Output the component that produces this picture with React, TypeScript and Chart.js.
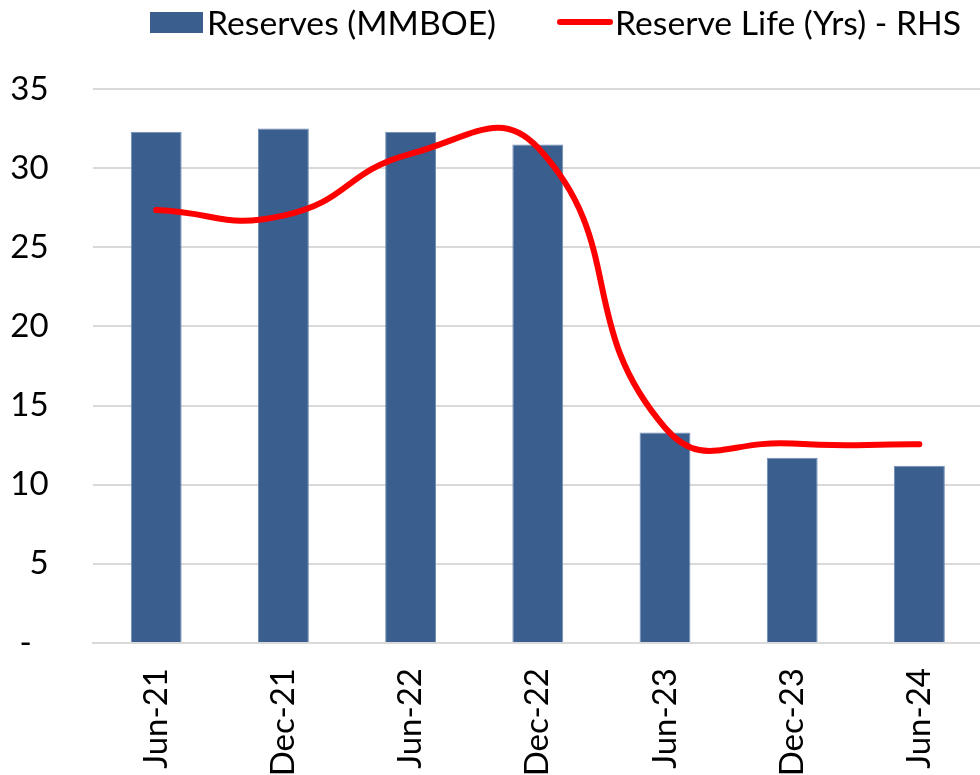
import React, { useEffect, useRef } from 'react';
import { Chart, registerables } from 'chart.js';

Chart.register(...registerables);

const categories = ['Jun-21', 'Dec-21', 'Jun-22', 'Dec-22', 'Jun-23', 'Dec-23', 'Jun-24'];
const reserves = [32.3, 32.5, 32.3, 31.5, 13.3, 11.7, 11.2];
const reserveLife = [27.35, 27.0, 30.9, 31.3, 13.6, 12.6, 12.55];
const seriesNames = ['Reserves (MMBOE)', 'Reserve Life (Yrs) - RHS'];
const yMin = 0;
const yMax = 35;
const yStep = 5;

const FONT = 'Lato, "Open Sans", sans-serif';
const BAR = '#3A5F8F';
const RED = '#FF0000';

export default function App() {
  const ref = useRef<HTMLCanvasElement | null>(null);

  useEffect(() => {
    if (!ref.current) return;
    const chart = new Chart(ref.current, {
      type: 'bar',
      data: {
        labels: categories,
        datasets: [
          {
            type: 'line',
            label: seriesNames[1],
            data: reserveLife,
            yAxisID: 'y1',
            borderColor: RED,
            borderWidth: 6,
            pointRadius: 0,
            tension: 0.5,
            borderCapStyle: 'round',
            borderJoinStyle: 'round',
            fill: false,
            order: 0,
          } as any,
          {
            type: 'bar',
            label: seriesNames[0],
            data: reserves,
            yAxisID: 'y',
            backgroundColor: BAR,
            borderColor: '#6F8DB3',
            borderWidth: 1,
            barPercentage: 0.4,
            categoryPercentage: 1.0,
            order: 1,
          },
        ],
      },
      options: {
        responsive: false,
        animation: false,
        layout: { padding: { top: 89, left: 0, right: 0, bottom: 0 } },
        plugins: {
          legend: { display: false },
          tooltip: { enabled: false },
        },
        scales: {
          x: {
            grid: { display: false, drawTicks: false },
            border: { display: true, color: '#D9D9D9', width: 2 },
            ticks: {
              color: '#000',
              font: { family: FONT, size: 33 },
              minRotation: 90,
              maxRotation: 90,
              padding: 25,
            },
            afterFit: (s: any) => {
              s.height = 775 - 643;
            },
          },
          y: {
            min: yMin,
            max: yMax,
            grid: { color: '#D9D9D9', lineWidth: 2, drawTicks: false },
            border: { display: false },
            ticks: {
              stepSize: yStep,
              color: '#000',
              font: { family: FONT, size: 33 },
              padding: 44,
              callback: (v: any) => (Number(v) === 0 ? '-  ' : String(v)),
            },
            afterFit: (s: any) => {
              s.width = 92.6;
            },
          },
          y1: {
            display: false,
            min: yMin,
            max: yMax,
            position: 'right',
          },
        },
      },
    });
    return () => chart.destroy();
  }, []);

  const textStyle: React.CSSProperties = {
    position: 'absolute',
    top: 0,
    height: 44,
    lineHeight: '44px',
    fontFamily: FONT,
    fontSize: 33.7,
    color: '#000',
    whiteSpace: 'nowrap',
  };

  return (
    <div style={{ position: 'absolute', left: 0, top: 0, width: 980, height: 775, overflow: 'hidden', background: '#fff' }}>
      <canvas ref={ref} width={984} height={775} style={{ position: 'absolute', left: 0, top: 0, width: 984, height: 775 }} />
      <div style={{ position: 'absolute', left: 150, top: 12, width: 53, height: 21, background: BAR }} />
      <div style={{ ...textStyle, left: 207 }}>{seriesNames[0]}</div>
      <div style={{ position: 'absolute', left: 557, top: 19, width: 56, height: 6, borderRadius: 3, background: RED }} />
      <div style={{ ...textStyle, left: 615 }}>{seriesNames[1]}</div>
    </div>
  );
}
